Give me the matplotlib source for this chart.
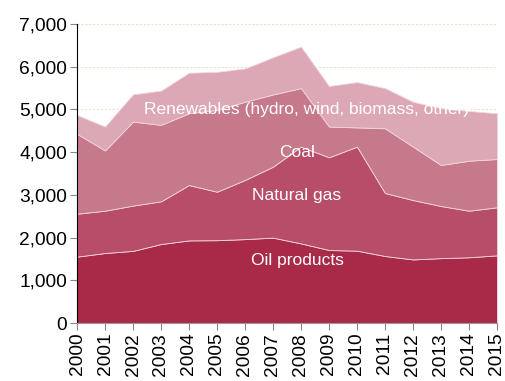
import matplotlib
matplotlib.use("Agg")
import matplotlib.pyplot as plt
import numpy as np

years = list(range(2000, 2016))
oil = [1555, 1640, 1690, 1850, 1935, 1940, 1965, 2000, 1865, 1710, 1695, 1570, 1490, 1520, 1540, 1585]
gas_top = [2560, 2630, 2750, 2850, 3230, 3075, 3350, 3660, 4130, 3880, 4130, 3045, 2880, 2740, 2630, 2710]
coal_top = [4430, 4040, 4715, 4640, 4910, 4990, 5180, 5350, 5500, 4600, 4580, 4560, 4130, 3700, 3800, 3840]
total = [4870, 4600, 5355, 5440, 5860, 5880, 5960, 6220, 6470, 5550, 5640, 5500, 5180, 5030, 4965, 4910]

gas = [g - o for g, o in zip(gas_top, oil)]
coal = [c - g for c, g in zip(coal_top, gas_top)]
renew = [t - c for t, c in zip(total, coal_top)]

labels = ["Oil products", "Natural gas", "Coal", "Renewables (hydro, wind, biomass, other)"]
colors = ["#A82A48", "#B84D69", "#C7798C", "#DDA8B5"]

plt.rcParams['font.family'] = ['Liberation Sans', 'DejaVu Sans']
fig = plt.figure(figsize=(5.05, 3.81), dpi=100)
ax = fig.add_axes([0.1525, 0.152, 0.8315, 0.785])

ax.stackplot(years, oil, gas, coal, renew, colors=colors, edgecolor="#f0d6dc", linewidth=0.6)

ax.set_xlim(2000, 2015)
ax.set_ylim(0, 7000)
ax.set_yticks(range(0, 7001, 1000))
ax.set_yticklabels([f"{v:,}" for v in range(0, 7001, 1000)], fontsize=13.8)
ax.set_xticks(years)
ax.set_xticklabels([str(y) for y in years], rotation=90, fontsize=13.8)
ax.yaxis.grid(True, linestyle=(0, (2, 1.5)), color="#e8e4cc", linewidth=0.8)
ax.set_axisbelow(True)
for s in ["top", "right"]:
    ax.spines[s].set_visible(False)
ax.spines["left"].set_color("black")
ax.spines["bottom"].set_color("#999999")
ax.tick_params(axis="both", length=5, color="#888888", pad=2)

ax.text(2008.18, 5010, labels[3], color="white", ha="center", va="center", fontsize=12.5)
ax.text(2007.86, 3990, labels[2], color="white", ha="center", va="center", fontsize=12.5)
ax.text(2007.86, 2980, labels[1], color="white", ha="center", va="center", fontsize=12.5)
ax.text(2007.86, 1475, labels[0], color="white", ha="center", va="center", fontsize=12.5)

fig.savefig("out.png", dpi=100)
